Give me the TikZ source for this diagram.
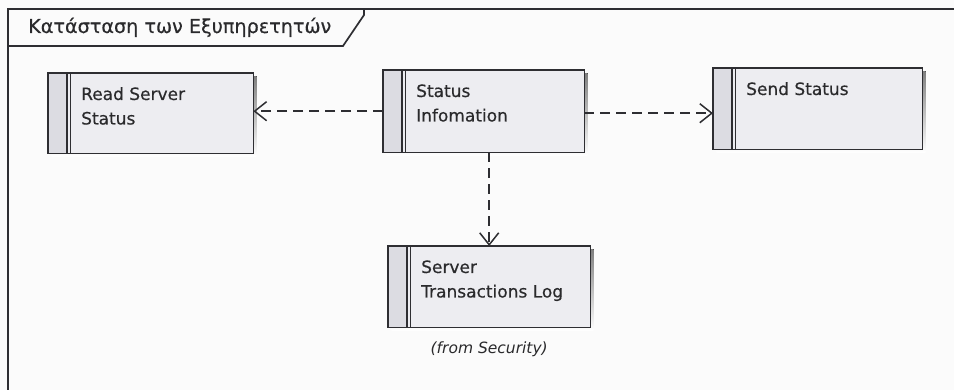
\documentclass[tikz,border=0pt]{standalone}
\usepackage{fontspec}
\setmainfont{DejaVu Sans}
% regular DejaVu Sans, only slightly thickened, for the box labels
\newfontfamily\labelfont{DejaVu Sans}[BoldFont=DejaVu Sans,
  BoldItalicFont=DejaVu Sans Oblique, BoldFeatures={FakeBold=0.45}]
\usetikzlibrary{arrows.meta}

\definecolor{edge}{HTML}{2E2E32}
\definecolor{ink}{HTML}{2A2A2C}
\definecolor{boxfill}{HTML}{EDEDF1}
\definecolor{stripefill}{HTML}{DCDCE2}
\definecolor{shade}{HTML}{BDBDC2}
\definecolor{paper}{HTML}{FBFBFB}

\tikzset{
  actbody/.style={fill=boxfill, rectangle, inner sep=0pt, anchor=north west},
  outline/.style={draw=edge, line width=1.5pt},
  actlabel/.style={anchor=base west, inner sep=0pt, text=ink,
    font=\labelfont\bfseries\fontsize{17}{24.5}\selectfont},
  frameline/.style={draw=edge, line width=1.7pt},
  dep/.style={draw=edge, line width=1.5pt, dash pattern=on 10pt off 6pt,
    -{Straight Barb[length=12pt,width=19pt,line width=1.5pt]}},
}

% activity box: name, left, top, width, height, label lines
\newcommand\actbox[6]{%
  \fill[shade] (#2+3.5,#3+3.5) rectangle ++(#4,#5);
  \node[actbody, minimum width=#4pt, minimum height=#5pt] (#1) at (#2,#3) {};
  \fill[stripefill] (#1.north west) rectangle ([xshift=19pt]#1.south west);
  \draw[edge, line width=1.3pt] ([xshift=19pt]#1.north west) -- ([xshift=19pt]#1.south west);
  \draw[edge, line width=1.3pt] ([xshift=22.5pt]#1.north west) -- ([xshift=22.5pt]#1.south west);
  \draw[outline] (#1.north west) rectangle (#1.south east);
  \node[actlabel] (#1-label) at (#2+33,#3+27) {\vtop{#6}};
}

\begin{document}
\begin{tikzpicture}[x=1pt,y=-1pt]
  \fill[paper] (0,0) rectangle (954,390);
  \useasboundingbox (0,0) rectangle (954,390);

  % diagram frame with its name tab
  \draw[frameline] (8,392) -- (8,9) -- (956,9);
  \draw[frameline] (8,46) -- (343,46) -- (364,15) -- (364,9);
  \node[anchor=base west, inner sep=0pt, text=ink,
    font=\labelfont\bfseries\fontsize{19.2}{24}\selectfont] (title) at (28,33)
    {Κατάσταση των Εξυπηρετητών};

  \actbox{rss}{48}{73}{205}{80}{\hbox{Read Server}\hbox{Status}}
  \actbox{si}{383}{70}{201}{82}{\hbox{Status}\hbox{Infomation}}
  \actbox{ss}{713}{68}{209}{81}{\hbox{Send Status}}
  \actbox{stl}{388}{246}{202}{81}{\hbox{Server}\hbox{Transactions Log}}

  \node[anchor=base, inner sep=0pt, text=ink,
    font=\labelfont\bfseries\itshape\fontsize{15.5}{18}\selectfont] (origin)
    at ([yshift=-26pt]stl.south) {(from Security)};

  % dependencies
  \draw[dep] (si.west) -- (si.west -| rss.east);
  \draw[dep] ([yshift=-2pt]si.east) -- ([yshift=-2pt]si.east -| ss.west);
  \draw[dep] (si.south -| stl.north) -- (stl.north);
\end{tikzpicture}
\end{document}
